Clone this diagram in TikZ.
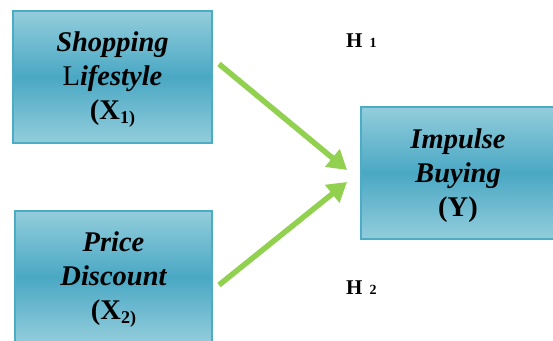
\documentclass[tikz,border=0pt]{standalone}
\usepackage{fontspec}
\setmainfont{Liberation Serif}
\usetikzlibrary{arrows.meta}
\definecolor{boxlight}{HTML}{93CDDC}
\definecolor{boxdark}{HTML}{4AA8C4}
\definecolor{boxedge}{HTML}{4BACC6}
\definecolor{arrowgreen}{HTML}{92D050}
\newcommand{\subidx}[1]{\raisebox{-0.3ex}{\fontsize{18}{18}\selectfont #1}}
\newcommand{\toppad}{\rule{0pt}{25pt}}
\begin{document}
\begin{tikzpicture}[x=1pt,y=-1pt,
  varbox/.style={draw=boxedge, line width=2pt,
    top color=boxlight, bottom color=boxlight, middle color=boxdark,
    minimum height=132pt, inner sep=0pt, align=center,
    font=\bfseries\itshape\fontsize{28.5}{34}\selectfont},
  hyparrow/.style={draw=arrowgreen, line width=5.5pt,
    -{Triangle[length=19pt,width=22pt]}},
  hlabel/.style={inner sep=0pt, anchor=base west}]
  \useasboundingbox (0,0) rectangle (553,340);
  % independent and dependent variables
  \node[varbox, minimum width=199pt] (x1) at (112.5,77)
    {\toppad Shopping\\\textup{\mdseries L}ifestyle\\\textup{(X\subidx{1)}}};
  \node[varbox, minimum width=197pt] (x2) at (113.5,277)
    {\toppad Price\\Discount\\\textup{(X\subidx{2)}}};
  \node[varbox, minimum width=194pt] (y) at (458,173)
    {\toppad Impulse\\Buying\\\textup{(Y)}};
  % hypothesis arrows
  \coordinate (s1) at (219,64);
  \coordinate (t1) at (347,170);
  \coordinate (s2) at (219,285);
  \coordinate (t2) at (347,182);
  \draw[hyparrow] (s1) -- (t1);
  \draw[hyparrow] (s2) -- (t2);
  % hypothesis labels
  \node[hlabel] (h1) at (346,47) {\bfseries\fontsize{21}{21}\selectfont H\hspace{7pt}\fontsize{14}{14}\selectfont 1};
  \node[hlabel] (h2) at (346,294) {\bfseries\fontsize{21}{21}\selectfont H\hspace{7pt}\fontsize{14}{14}\selectfont 2};
\end{tikzpicture}
\end{document}
